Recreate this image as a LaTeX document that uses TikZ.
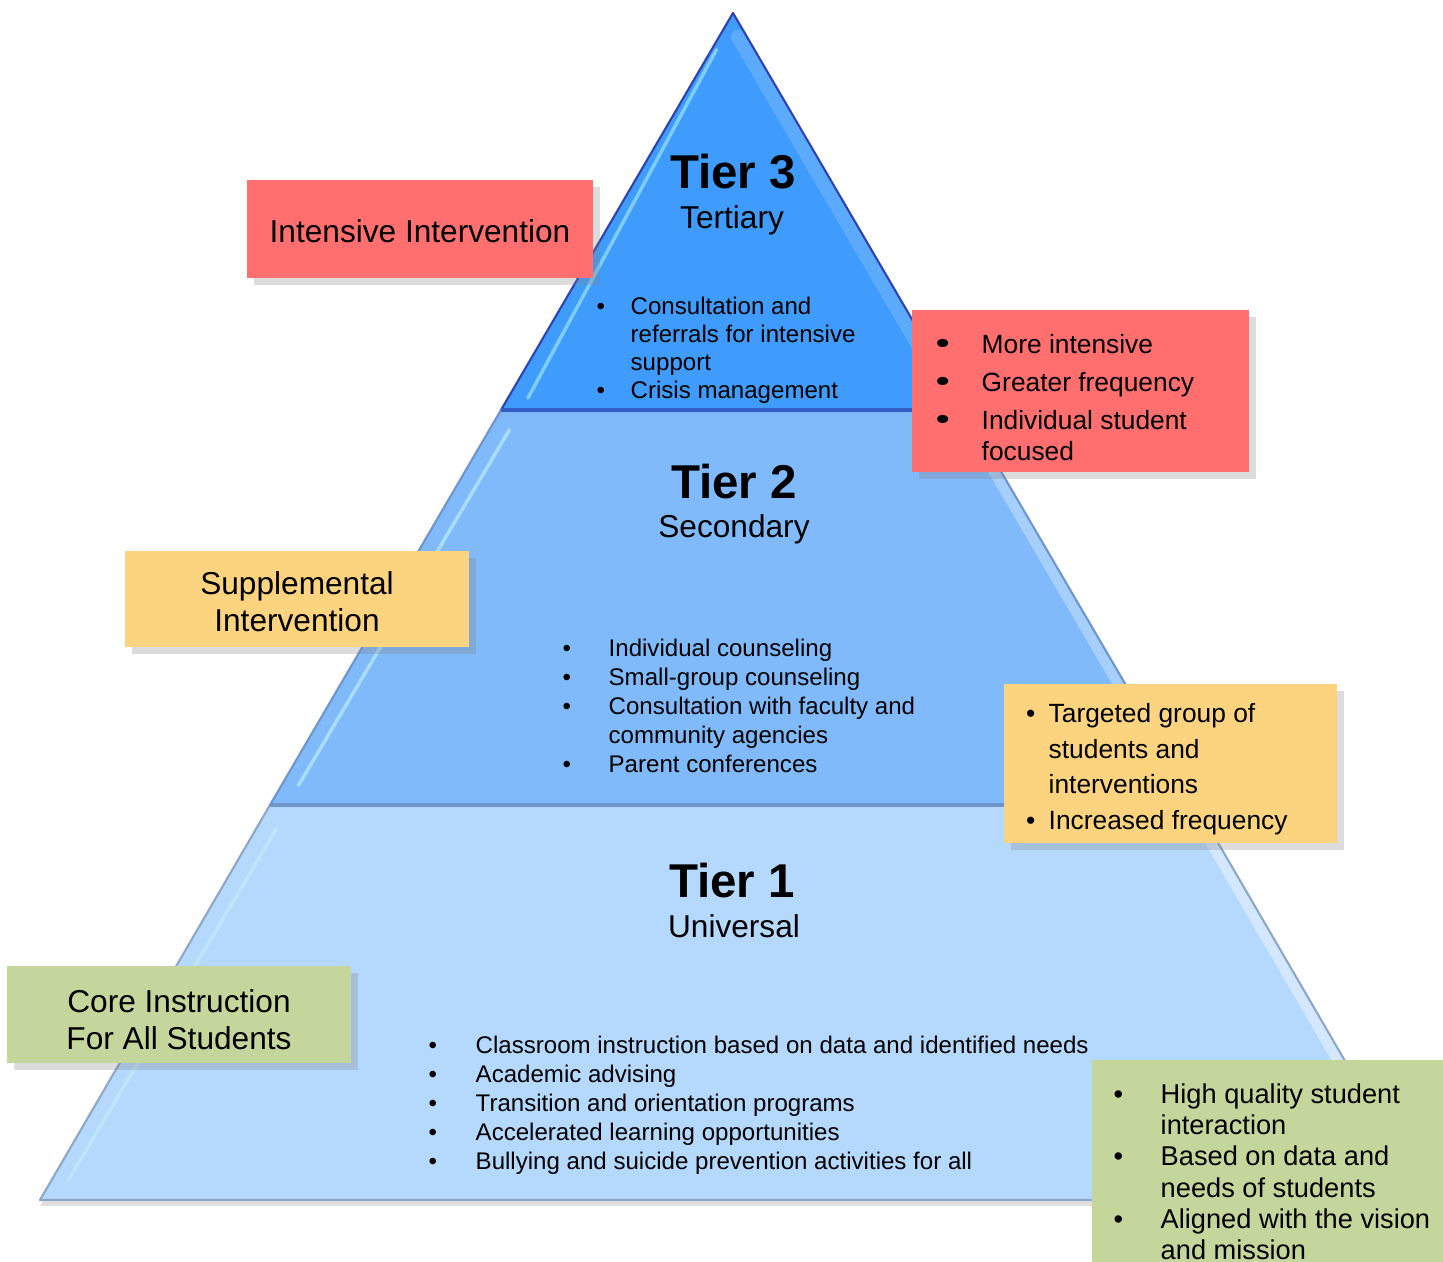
\documentclass[tikz,border=0pt]{standalone}
\usepackage{fontspec}
\setmainfont{Liberation Sans}
\usetikzlibrary{shadows,calc,positioning}

\definecolor{tierthree}{HTML}{409CFC}
\definecolor{tiertwo}{HTML}{80BAFB}
\definecolor{tierone}{HTML}{B5D8FD}
\definecolor{edgethree}{HTML}{2E42B2}
\definecolor{edgetwo}{HTML}{6F95CC}
\definecolor{edgeone}{HTML}{8FA6C6}
\definecolor{redbox}{HTML}{FF6F6F}
\definecolor{yellowbox}{HTML}{FCD37E}
\definecolor{greenbox}{HTML}{C4D69C}

\newlength{\bulind}
\newcommand{\bl}{\makebox[\bulind][l]{\textbullet}}
\newcommand{\bigbl}{\makebox[\bulind][l]{\scalebox{1.55}[1.15]{\textbullet}}}
\newcommand{\ind}{\hspace*{\bulind}}

\begin{document}
\begin{tikzpicture}[
	tier/.style={line width=0.6pt, line join=round},
	bevel/.style={line width=#1, line cap=round},
	notebox/.style={rectangle, inner sep=0pt,
		drop shadow={shadow xshift=0.7mm, shadow yshift=-0.7mm, opacity=0.28}},
	boxtitle/.style={font=\fontsize{9}{10.6}\selectfont, align=center},
	tiertitle/.style={anchor=base, font=\bfseries\fontsize{13.5}{15}\selectfont},
	tiersub/.style={anchor=base, font=\fontsize{9}{10}\selectfont},
	bulletlist/.style={anchor=north west, inner sep=0pt, align=left,
		/utils/exec={\setlength{\bulind}{#1}}},
]
	\useasboundingbox (0,0) rectangle (14.43,12.62);

	% corners of the pyramid
	\coordinate (apex) at (7.33,12.49);
	\coordinate (l3) at (5.01,8.52);
	\coordinate (r3) at (9.65,8.52);
	\coordinate (l2) at (2.70,4.57);
	\coordinate (r2) at (11.96,4.57);
	\coordinate (l1) at (0.40,0.62);
	\coordinate (r1) at (14.26,0.62);

	% Tier 1
	\fill[tierone, drop shadow={shadow xshift=0mm, shadow yshift=-0.6mm, opacity=0.25}]
		(l2) -- (r2) -- (r1) -- (l1) -- cycle;
	\draw[bevel=3pt, white!40!tierone] ($(r2)!0.02!(r1)+(-0.07,0)$) -- ($(r2)!0.98!(r1)+(-0.07,0)$);
	\draw[bevel=1pt, white!75!cyan, opacity=0.8] ($(l2)!0.06!(l1)+(0.2,0)$) -- ($(l2)!0.95!(l1)+(0.17,0)$);
	\draw[tier, edgeone] (l2) -- (l1) -- (r1) -- (r2);

	% Tier 2
	\fill[tiertwo] (l3) -- (r3) -- (r2) -- (l2) -- cycle;
	\draw[bevel=3pt, white!30!tiertwo] ($(r3)!0.02!(r2)+(-0.07,0)$) -- ($(r3)!0.98!(r2)+(-0.07,0)$);
	\draw[bevel=1pt, white!70!cyan, opacity=0.8] ($(l3)!0.05!(l2)+(0.2,0)$) -- ($(l3)!0.95!(l2)+(0.17,0)$);
	\draw[tier, edgetwo] (l3) -- (l2) -- (r2) -- (r3);
	\draw[line width=1pt, edgetwo] (l2) -- (r2);

	% Tier 3
	\fill[tierthree] (apex) -- (r3) -- (l3) -- cycle;
	\draw[bevel=4pt, white!14!tierthree] ($(apex)!0.06!(r3)+(-0.09,0)$) -- ($(apex)!0.98!(r3)+(-0.09,0)$);
	\draw[bevel=1pt, white!55!cyan, opacity=0.8] ($(apex)!0.08!(l3)+(0.02,-0.05)$) -- ($(apex)!0.97!(l3)+(0.2,0)$);
	\draw[tier, edgethree] (r3) -- (apex) -- (l3);
	\draw[line width=1pt, edgethree!70!tierthree] (l3) -- (r3);

	% tier titles
	\node[tiertitle] (t3) at (7.33,10.73) {Tier 3};
	\node[tiersub] (t3sub) at (7.32,10.33) {Tertiary};
	\node[tiertitle] (t2) at (7.34,7.63) {Tier 2};
	\node[tiersub] (t2sub) at (7.34,7.24) {Secondary};
	\node[tiertitle] (t1) at (7.32,3.64) {Tier 1};
	\node[tiersub] (t1sub) at (7.34,3.24) {Universal};

	% tier contents
	\node[bulletlist=0.34cm, font=\fontsize{6.85}{8.0}\selectfont] (t3list) at (5.96,9.66)
		{\bl Consultation and\\ \ind referrals for intensive\\ \ind support\\ \bl Crisis management};
	\node[bulletlist=0.46cm, font=\fontsize{6.85}{8.25}\selectfont] (t2list) at (5.62,6.24)
		{\bl Individual counseling\\ \bl Small-group counseling\\ \bl Consultation with faculty and\\
		 \ind community agencies\\ \bl Parent conferences};
	\node[bulletlist=0.47cm, font=\fontsize{6.85}{8.25}\selectfont] (t1list) at (4.28,2.27)
		{\bl Classroom instruction based on data and identified needs\\ \bl Academic advising\\
		 \bl Transition and orientation programs\\ \bl Accelerated learning opportunities\\
		 \bl Bullying and suicide prevention activities for all};

	% left boxes
	\node[notebox, boxtitle, fill=redbox, minimum width=3.46cm, minimum height=0.98cm]
		(intensive) at (4.20,10.33) {\rule{0pt}{7.6pt}Intensive Intervention};
	\node[notebox, boxtitle, fill=yellowbox, minimum width=3.44cm, minimum height=0.96cm]
		(supplemental) at (2.97,6.63) {\rule{0pt}{8pt}Supplemental\\Intervention};
	\node[notebox, boxtitle, fill=greenbox, minimum width=3.44cm, minimum height=0.97cm]
		(core) at (1.79,2.475) {\rule{0pt}{9.6pt}Core Instruction\\For All Students};

	% right boxes
	\node[notebox, fill=redbox, minimum width=3.37cm, minimum height=1.62cm] (redright) at (10.805,8.71) {};
	\node[notebox, fill=yellowbox, minimum width=3.33cm, minimum height=1.59cm] (yellowright) at (11.705,4.985) {};
	\node[notebox, fill=greenbox, minimum width=3.51cm, minimum height=2.02cm] (greenright) at (12.675,1.01) {};

	\node[bulletlist=0.46cm, font=\fontsize{7.5}{8.8}\selectfont] (redlist) at (9.35,9.285)
		{\bigbl More intensive\\[2pt] \bigbl Greater frequency\\[2pt] \bigbl Individual student\\ \ind focused};
	\node[bulletlist=0.225cm, font=\fontsize{7.5}{10.1}\selectfont] (yellowlist) at (10.255,5.59)
		{\bl Targeted group of\\ \ind students and\\ \ind interventions\\ \bl Increased frequency};
	\node[bulletlist=0.47cm, font=\fontsize{7.75}{8.9}\selectfont] (greenlist) at (11.13,1.79)
		{\bl High quality student\\ \ind interaction\\ \bl Based on data and\\ \ind needs of students\\
		 \bl Aligned with the vision\\ \ind and mission};
\end{tikzpicture}
\end{document}
